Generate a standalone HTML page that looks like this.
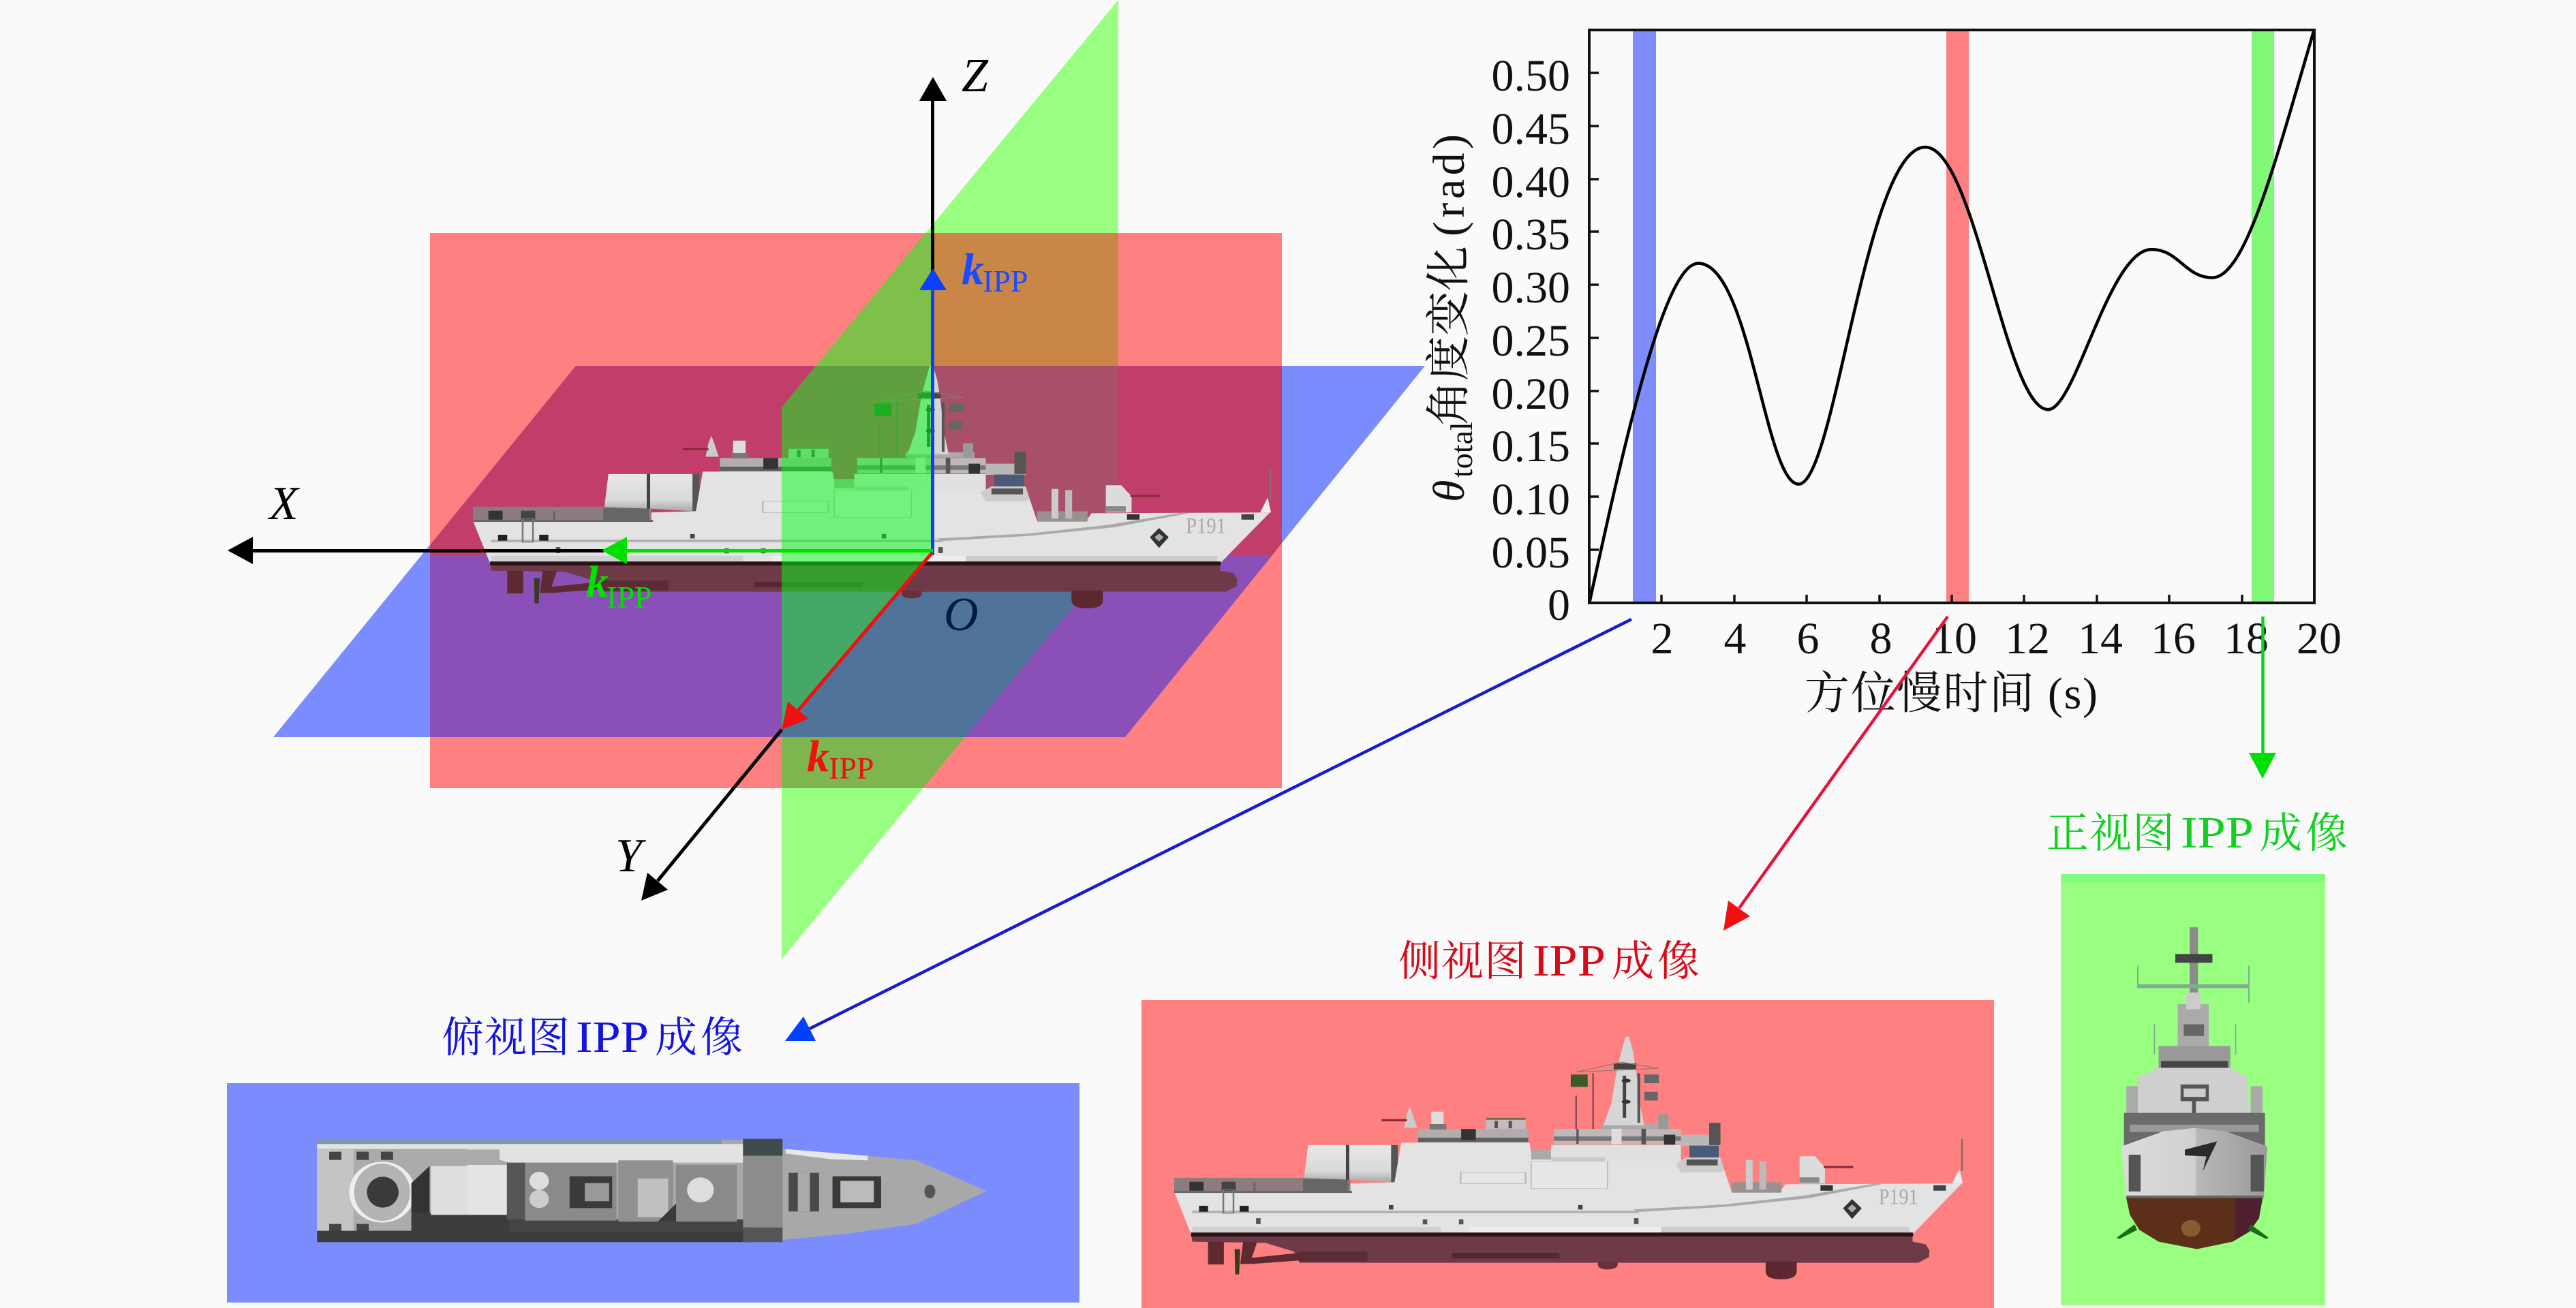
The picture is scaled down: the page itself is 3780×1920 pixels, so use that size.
<!DOCTYPE html>
<html><head><meta charset="utf-8"><style>
html,body{margin:0;padding:0;background:#fafafa;width:3780px;height:1920px;overflow:hidden}
svg{display:block}
text{font-family:"Liberation Serif","Noto Serif CJK SC",serif}
</style></head><body>
<svg xmlns="http://www.w3.org/2000/svg" width="3780" height="1920" viewBox="0 0 3780 1920">
<defs>
<linearGradient id="hg" x1="0" y1="0" x2="0" y2="1"><stop offset="0" stop-color="#e8e8e8"/><stop offset=".7" stop-color="#d8d8d8"/><stop offset="1" stop-color="#a8a8a8"/></linearGradient>
<linearGradient id="bow" x1="0" y1="0" x2="1" y2="0"><stop offset="0" stop-color="#dcdcdc"/><stop offset=".5" stop-color="#d0d0d0"/><stop offset=".52" stop-color="#b8b8b8"/><stop offset="1" stop-color="#9a9a9a"/></linearGradient>
<g id="ship">
<rect x="88" y="1042" width="312" height="58" fill="#8d7c7e"/>
<rect x="115" y="1058" width="25" height="36" fill="#333"/><rect x="172" y="1058" width="25" height="36" fill="#444"/>
<rect x="228" y="1060" width="4" height="36" fill="#666"/><rect x="316" y="1048" width="80" height="50" fill="#666"/>
<polygon points="318,1042 325,910 482,910 472,1060 400,1050" fill="url(#hg)"/>
<rect x="392" y="910" width="6" height="140" fill="#444"/><rect x="472" y="910" width="12" height="150" fill="#555"/>
<!-- upper superstructure -->
<rect x="520" y="845" width="195" height="58" fill="#b4acac"/><rect x="520" y="880" width="195" height="18" fill="#5f5f5f"/>
<rect x="640" y="805" width="70" height="40" fill="#c4bcbc"/><rect x="640" y="800" width="70" height="8" fill="#7a6a4a"/>
<rect x="655" y="812" width="6" height="30" fill="#555"/><rect x="680" y="812" width="6" height="30" fill="#555"/>
<rect x="596" y="845" width="26" height="45" fill="#333"/>
<rect x="760" y="845" width="225" height="62" fill="#c0b8b8"/><rect x="760" y="875" width="225" height="18" fill="#777"/>
<rect x="800" y="845" width="4" height="60" fill="#555"/><rect x="862" y="835" width="18" height="72" fill="#ddd"/><rect x="915" y="835" width="8" height="72" fill="#555"/>
<rect x="845" y="822" width="120" height="22" fill="#aaa"/>
<rect x="985" y="868" width="70" height="45" fill="#b8b8b8"/><rect x="955" y="868" width="20" height="40" fill="#333"/>
<rect x="1035" y="820" width="20" height="90" fill="#555"/>
<!-- mast -->
<polygon points="848,830 862,740 872,600 880,530 887,472 893,472 900,530 905,600 912,740 920,830" fill="#d6d6d6"/>
<rect x="866" y="580" width="40" height="24" fill="#444"/>
<rect x="882" y="630" width="6" height="170" fill="#444"/>
<rect x="908" y="620" width="5" height="200" fill="#555"/>
<circle cx="888" cy="650" r="8" fill="#333"/><circle cx="888" cy="735" r="8" fill="#333"/>
<rect x="790" y="625" width="30" height="50" fill="#3a5a2a"/>
<rect x="920" y="625" width="26" height="35" fill="#666"/><rect x="920" y="695" width="24" height="35" fill="#666"/>
<polygon points="800,615 880,575 945,600" fill="none" stroke="#8a7a6a" stroke-width="3"/>
<rect x="798" y="710" width="3" height="135" fill="#8a4a5a"/><rect x="828" y="620" width="3" height="225" fill="#8a4a5a"/>
<rect x="945" y="785" width="18" height="60" fill="#999"/>
<!-- aft gun, radome -->
<polygon points="495,840 500,785 505,755 510,785 518,840" fill="#ccc"/>
<rect x="455" y="805" width="45" height="9" fill="#8a2a3a"/>
<rect x="543" y="775" width="22" height="70" fill="#ddd"/><rect x="540" y="825" width="30" height="22" fill="#777"/>
<!-- main body -->
<polygon points="88,1098 400,1098 400,1065 478,1060 490,900 717,900 722,968 755,968 755,910 985,910 985,985 1062,1012 1075,1100 1160,1100 1170,1068 1482,1065 1395,1270 118,1270" fill="#e3e3e3"/>
<rect x="88" y="1095" width="315" height="8" fill="#666"/>
<rect x="720" y="930" width="35" height="38" fill="#aaa"/>
<rect x="720" y="975" width="135" height="110" fill="#e6e6e6" stroke="#bbb" stroke-width="2"/>
<rect x="595" y="1020" width="115" height="45" fill="#e6e6e6" stroke="#bbb" stroke-width="3"/>
<rect x="755" y="910" width="230" height="65" fill="#e0e0e0"/>
<rect x="755" y="960" width="95" height="15" fill="#c8c8c8"/>
<rect x="120" y="1175" width="790" height="10" fill="#b0b0b0"/>
<polygon points="900,1170 1060,1150 1200,1115 1330,1065 1340,1068 1210,1125 1060,1160 910,1180" fill="#aaa"/>
<rect x="120" y="1240" width="440" height="28" fill="#d0d0d0"/><rect x="610" y="1240" width="340" height="28" fill="#eee"/>
<rect x="950" y="1240" width="440" height="28" fill="#ccc"/>
<rect x="132" y="1155" width="16" height="24" fill="#222"/><rect x="204" y="1155" width="16" height="24" fill="#222"/>
<rect x="175" y="1090" width="18" height="95" fill="none" stroke="#777" stroke-width="3"/>
<polygon points="1288,1128 1305,1165 1288,1208 1272,1165" fill="#333"/>
<polygon points="1288,1150 1296,1165 1288,1182 1280,1165" fill="#aaa"/>
<text x="1335" y="1148" font-size="90" fill="#aaa" textLength="70" lengthAdjust="spacingAndGlyphs">P191</text>
<rect x="1232" y="1072" width="22" height="22" fill="#333"/><rect x="1432" y="1072" width="22" height="22" fill="#444"/>
<rect x="468" y="1152" width="8" height="18" fill="#444"/><rect x="803" y="1152" width="8" height="18" fill="#444"/>
<rect x="233" y="1205" width="8" height="24" fill="#555"/><rect x="528" y="1210" width="8" height="20" fill="#555"/><rect x="592" y="1210" width="8" height="20" fill="#555"/><rect x="902" y="1205" width="8" height="24" fill="#555"/>
<!-- bridge -->
<polygon points="975,985 995,960 1055,960 1062,1012 1055,1020 985,1020" fill="#ccc"/>
<rect x="1000" y="912" width="52" height="48" fill="#4a5a78"/><rect x="995" y="968" width="55" height="24" fill="#555"/>
<!-- forward -->
<rect x="1075" y="1060" width="88" height="42" fill="#9a9090"/><rect x="1100" y="970" width="12" height="120" fill="#ccc"/><rect x="1124" y="975" width="12" height="115" fill="#bbb"/>
<polygon points="1195,1065 1195,955 1222,955 1240,1000 1240,1065" fill="#dcdcdc"/>
<rect x="1238" y="994" width="52" height="9" fill="#8a2a3a"/><rect x="1195" y="1040" width="35" height="22" fill="#888"/>
<polygon points="1465,1065 1478,1005 1484,1065" fill="#eee"/><rect x="1481" y="885" width="3" height="130" fill="#8a6a6a"/>
<!-- hull -->
<polygon points="118,1265 1395,1265 1395,1300 1418,1310 1425,1335 1424,1362 1405,1385 310,1385 300,1340 250,1305 120,1300" fill="#6e3a48"/>
<rect x="118" y="1263" width="1278" height="16" fill="#2a1216"/>
<rect x="310" y="1340" width="120" height="40" fill="#5a2c36"/><rect x="580" y="1345" width="190" height="22" fill="#55282f"/>
<path d="M1135 1380 H1190 V1420 Q1190 1452 1162 1452 Q1135 1452 1135 1420 Z" fill="#5c2830"/>
<path d="M838 1380 H873 V1395 Q870 1412 855 1412 Q840 1412 838 1395 Z" fill="#6a3038"/>
<rect x="148" y="1300" width="28" height="92" fill="#5e2a32"/>
<polygon points="210,1300 235,1300 222,1390 205,1390" fill="#5e2a32"/>
<polygon points="195,1330 205,1330 203,1432 196,1432" fill="#3a3a20"/>
<polygon points="205,1370 310,1345 315,1375 225,1390" fill="#5e2a32"/>
</g>
</defs>

<!-- 3D planes -->
<polygon points="1147,598 1641,0 1641,810 1147,1408" fill="#99ff80"/>
<polygon points="845,537 2091,537 1651,1082 401,1082" fill="#7b8cff"/>
<rect x="631" y="342" width="1250" height="815" fill="#ff8080"/>
<polygon points="845,537 1881,537 1881,797 1867,815 631,815 631,800" fill="#c13e6b"/>
<polygon points="631,815 1867,815 1651,1082 631,1082" fill="#8a50b8"/>
<rect x="1368" y="342" width="273" height="195" fill="#c98647"/>
<rect x="1368" y="537" width="273" height="278" fill="#a84f69"/>
<polygon points="1368,815 1637,815 1416,1082 1147,1082 1147,1069" fill="#4f7399"/>
<polygon points="1147,1082 1416,1082 1354,1157 1147,1157" fill="#7db54f"/>
<use href="#ship" transform="translate(620.1,365) scale(.839,.3636)"/>
<polygon points="1147,598 1358,342 1368,342 1368,815 1147,1069" fill="#00ff14" fill-opacity=".5"/>

<!-- axes -->
<g fill="#000" stroke="none">
<rect x="1366" y="148" width="5" height="280"/><polygon points="1369,113 1349,148 1389,148"/>
<rect x="371" y="806" width="515" height="5"/><polygon points="334,808 371,788 371,828"/>
<line x1="1147" y1="1071" x2="965" y2="1293" stroke="#000" stroke-width="5"/>
<polygon points="941,1322 980,1306 950,1281"/>
</g>
<rect x="1366" y="426" width="5" height="389" fill="#0a40ff"/><polygon points="1369,394 1349,426 1389,426" fill="#0a40ff"/>
<rect x="920" y="806" width="449" height="5" fill="#00e000"/><polygon points="883,808 920,788 920,828" fill="#00e000"/>
<line x1="1368" y1="811" x2="1171" y2="1043" stroke="#f01010" stroke-width="5"/>
<polygon points="1147,1071 1186,1055 1156,1030" fill="#f01010"/>

<g font-size="70" font-style="italic" fill="#000">
<text x="1411" y="134">Z</text><text x="395" y="762">X</text><text x="903" y="1279">Y</text><text x="1385" y="925" fill="#001a40">O</text>
</g>
<g font-style="italic" font-weight="bold" font-size="66">
<text x="1411" y="417" fill="#1a4cff">k</text><text x="860" y="876" fill="#00e000">k</text><text x="1184" y="1132" fill="#f01010">k</text>
</g>
<g font-size="46">
<text x="1442" y="428" fill="#1a4cff">IPP</text><text x="890" y="892" fill="#00e000">IPP</text><text x="1216" y="1143" fill="#f01010">IPP</text>
</g>

<!-- chart -->
<rect x="2396" y="44" width="34" height="841" fill="#7f8cff"/>
<rect x="2856" y="44" width="33" height="841" fill="#ff8080"/>
<rect x="3304" y="44" width="33" height="841" fill="#80f878"/>
<g transform="translate(2050,0) scale(.8929,.7015)">
<path d="M316 1262 C376 912 440 551 495 551 C580 551 605 1013 660 1013 C720 1013 770 308 868 308 C950 308 1000 857 1070 857 C1115 857 1170 522 1240 522 C1285 522 1295 581 1340 581 C1395 581 1445 330 1507 63" fill="none" stroke="#000" stroke-width="4.5" vector-effect="non-scaling-stroke"/>
</g>
<rect x="2332" y="44" width="1064" height="841" fill="none" stroke="#111" stroke-width="4"/>
<g stroke="#111" stroke-width="3.5">
<path d="M2332 807H2346M2332 729H2346M2332 651H2346M2332 574H2346M2332 496H2346M2332 418H2346M2332 340H2346M2332 263H2346M2332 185H2346M2332 107H2346"/>
<path d="M2438 885V873M2545 885V873M2651 885V873M2758 885V873M2864 885V873M2970 885V873M3077 885V873M3183 885V873M3290 885V873"/>
</g>
<g font-size="66" fill="#111" text-anchor="end">
<text x="2304" y="133">0.50</text><text x="2304" y="211">0.45</text><text x="2304" y="289">0.40</text><text x="2304" y="366">0.35</text><text x="2304" y="444">0.30</text><text x="2304" y="522">0.25</text><text x="2304" y="600">0.20</text><text x="2304" y="677">0.15</text><text x="2304" y="755">0.10</text><text x="2304" y="833">0.05</text><text x="2304" y="910">0</text>
</g>
<g font-size="66" fill="#111" text-anchor="middle">
<text x="2439" y="959">2</text><text x="2546" y="959">4</text><text x="2653" y="959">6</text><text x="2760" y="959">8</text><text x="2868" y="959">10</text><text x="2975" y="959">12</text><text x="3082" y="959">14</text><text x="3189" y="959">16</text><text x="3296" y="959">18</text><text x="3403" y="959">20</text>
</g>
<text x="2648" y="1040" font-size="66" fill="#111" textLength="430">方位慢时间 (s)</text>
<g transform="translate(2148,737) rotate(-90)" fill="#111">
<text x="0" y="0" font-size="66" font-style="italic">θ</text>
<text x="36" y="12" font-size="46">total</text>
<text x="112" y="0" font-size="66">角度变化</text>
<text x="390" y="0" font-size="66" textLength="150">(rad)</text>
</g>

<!-- connectors -->
<line x1="2394" y1="909" x2="1188" y2="1510" stroke="#1a1ad0" stroke-width="4.5"/>
<polygon points="1152,1528 1197,1528 1179,1492" fill="#0040ff"/>
<line x1="2858" y1="905" x2="2552" y2="1333" stroke="#e8103c" stroke-width="4.5"/>
<polygon points="2529,1366 2568,1345 2536,1322" fill="#f01010"/>
<line x1="3320.5" y1="905" x2="3320.5" y2="1105" stroke="#10d020" stroke-width="4.5"/>
<polygon points="3320,1143 3300,1105 3340,1105" fill="#00e000"/>

<!-- labels -->
<g font-size="62" fill="#1414e0">
<text x="648" y="1544" textLength="188">俯视图</text><text x="845" y="1544" font-size="66" textLength="107" lengthAdjust="spacingAndGlyphs">IPP</text><text x="961" y="1544" textLength="129">成像</text>
</g>
<g font-size="62" fill="#d80a1a">
<text x="2052" y="1432" textLength="188">侧视图</text><text x="2249" y="1432" font-size="66" textLength="107" lengthAdjust="spacingAndGlyphs">IPP</text><text x="2365" y="1432" textLength="129">成像</text>
</g>
<g font-size="62" fill="#10d020">
<text x="3003" y="1244" textLength="188">正视图</text><text x="3200" y="1244" font-size="66" textLength="107" lengthAdjust="spacingAndGlyphs">IPP</text><text x="3316" y="1244" textLength="129">成像</text>
</g>

<!-- top view -->
<rect x="333" y="1590" width="1251" height="322" fill="#7b8cff"/>
<g transform="translate(300,1450) scale(.893,.3333)">
<polygon points="185,670 885,670 950,710 1090,740 1170,760 1285,895 1170,1040 1050,1085 950,1110 885,1120 185,1120" fill="#a8a8a8"/>
<rect x="185" y="668" width="665" height="20" fill="#7e98a8"/>
<polygon points="185,688 885,688 885,770 680,770 500,770 430,710 185,710" fill="#e2e2e2"/>
<rect x="185" y="712" width="300" height="360" fill="#ababab"/>
<rect x="185" y="712" width="60" height="360" fill="#c4c4c4"/>
<rect x="205" y="722" width="20" height="36" fill="#444"/><rect x="250" y="722" width="20" height="36" fill="#444"/><rect x="290" y="722" width="20" height="36" fill="#444"/>
<rect x="205" y="1040" width="20" height="36" fill="#444"/><rect x="250" y="1040" width="20" height="36" fill="#444"/>
<rect x="185" y="1070" width="715" height="50" fill="#3c3c3c"/>
<rect x="340" y="990" width="160" height="85" fill="#3c3c3c"/><rect x="500" y="1020" width="400" height="55" fill="#444"/>
<ellipse cx="292" cy="900" rx="50" ry="130" fill="#b4b4b4" stroke="#eee" stroke-width="8"/>
<ellipse cx="293" cy="900" rx="26" ry="68" fill="#3a3a3a"/>
<polygon points="340,990 340,860 370,785 370,990" fill="#333"/>
<rect x="372" y="785" width="60" height="215" fill="#dedede"/><rect x="432" y="780" width="65" height="220" fill="#e4e4e4"/>
<rect x="497" y="770" width="30" height="250" fill="#555"/>
<rect x="527" y="770" width="150" height="255" fill="#8a8a8a"/><rect x="600" y="830" width="70" height="140" fill="#3a3a3a"/><rect x="625" y="860" width="40" height="80" fill="#999"/>
<ellipse cx="550" cy="850" rx="16" ry="40" fill="#ddd"/><ellipse cx="550" cy="930" rx="16" ry="40" fill="#ccc"/>
<rect x="680" y="760" width="90" height="270" fill="#909090"/><rect x="712" y="840" width="50" height="170" fill="#c0c0c0"/>
<polygon points="745,1030 810,1030 810,930 775,950" fill="#3a3a3a"/>
<rect x="775" y="780" width="100" height="250" fill="#8a8a8a"/><ellipse cx="815" cy="890" rx="22" ry="55" fill="#ddd"/>
<rect x="885" y="665" width="65" height="75" fill="#3f4a4a"/><rect x="885" y="1055" width="65" height="65" fill="#555"/>
<rect x="885" y="740" width="65" height="315" fill="#8c8c8c"/>
<rect x="960" y="815" width="50" height="170" fill="#4a4a4a"/><rect x="975" y="815" width="20" height="170" fill="#aaa"/>
<rect x="1032" y="830" width="80" height="140" fill="#3a3a3a"/><rect x="1045" y="850" width="55" height="95" fill="#bbb"/>
<ellipse cx="1192" cy="897" rx="9" ry="30" fill="#555"/>
<polygon points="955,710 1090,740 1090,760 1030,755 955,730" fill="#e8e8e8"/>
</g>

<!-- side view -->
<rect x="1675" y="1468" width="1251" height="452" fill="#ff8080"/>
<use href="#ship" transform="translate(1650,1350) scale(.829,.3636)"/>

<!-- front view -->
<rect x="3024" y="1283" width="388" height="633" fill="#99ff80"/>
<rect x="3024" y="1283" width="388" height="12" fill="#80fc80"/>
<g transform="translate(2950,1150) scale(.3508,.491)">
<rect x="750" y="430" width="35" height="255" fill="#8a8a8a"/>
<rect x="690" y="510" width="155" height="26" fill="#444"/>
<rect x="530" y="600" width="470" height="12" fill="#80b090"/>
<rect x="530" y="545" width="6" height="65" fill="#80b090"/><rect x="995" y="545" width="6" height="110" fill="#80b090"/>
<rect x="700" y="660" width="130" height="130" fill="#aaa"/><rect x="735" y="625" width="60" height="50" fill="#ccc"/>
<rect x="725" y="720" width="85" height="35" fill="#666"/>
<rect x="600" y="720" width="5" height="90" fill="#80b090"/><rect x="940" y="720" width="5" height="90" fill="#80b090"/>
<rect x="620" y="785" width="300" height="65" fill="#999"/><rect x="630" y="830" width="280" height="22" fill="#444"/>
<polygon points="530,880 610,850 925,850 990,880 1000,990 530,990" fill="#cfcfcf"/>
<rect x="485" y="905" width="48" height="85" fill="#aaa"/><rect x="1005" y="905" width="50" height="85" fill="#aaa"/>
<rect x="712" y="900" width="118" height="50" fill="#555"/><rect x="725" y="912" width="92" height="25" fill="#ccc"/>
<rect x="760" y="950" width="16" height="40" fill="#555"/>
<rect x="475" y="985" width="590" height="100" fill="#6a6a6a"/><rect x="500" y="1020" width="540" height="22" fill="#999"/>
<polygon points="465,1085 640,1040 770,1030 900,1040 1075,1085 1060,1240 485,1240" fill="url(#bow)"/>
<rect x="495" y="1110" width="50" height="110" fill="#555"/><rect x="1005" y="1110" width="55" height="110" fill="#555"/>
<polygon points="730,1095 865,1070 805,1160 820,1115 730,1112" fill="#2a2a2a"/>
<rect x="485" y="1232" width="570" height="10" fill="#666"/>
<polygon points="485,1240 1055,1240 1040,1300 1000,1340 930,1370 780,1392 620,1370 540,1335 500,1290" fill="#5c3018"/>
<polygon points="940,1240 1055,1240 1040,1300 1000,1340 940,1365" fill="#4e2030"/>
<ellipse cx="755" cy="1330" rx="40" ry="25" fill="#8a5a30"/>
<polygon points="445,1358 520,1318 530,1335 455,1362" fill="#1a6a1a"/>
<polygon points="1080,1358 1005,1318 995,1335 1070,1362" fill="#1a6a1a"/>
</g>
</svg>
</body></html>
